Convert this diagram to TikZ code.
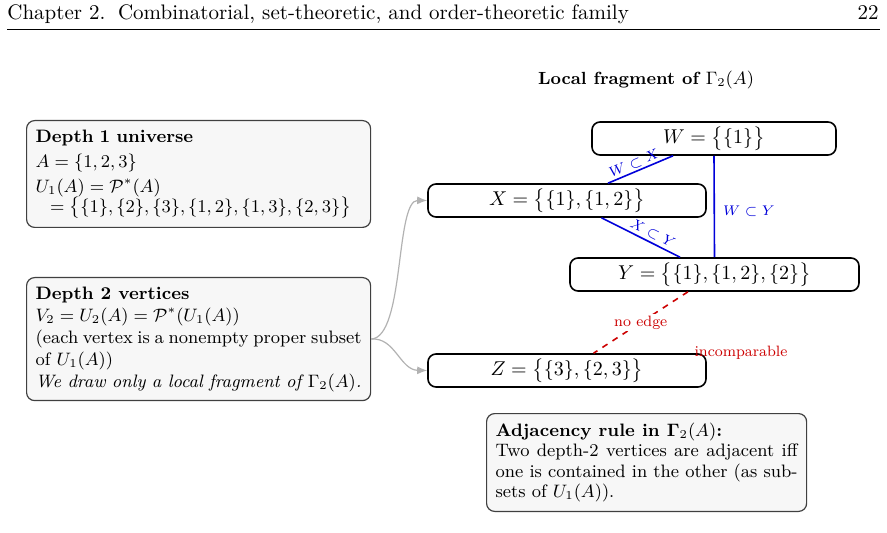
\documentclass[tikz,border=0pt]{standalone}
\usepackage{amsmath}
\usetikzlibrary{arrows.meta}
\begin{document}
\begin{tikzpicture}[x=0.5pt,y=-0.5pt,
  infobox/.style={draw=black!75,fill=black!3,rounded corners=4pt,line width=0.6pt,inner sep=4.5pt,font=\small,align=left,anchor=north west},
  vtx/.style={draw=black,fill=white,rounded corners=4pt,line width=0.8pt,inner sep=0pt,font=\normalsize},
  sub/.style={draw=blue!85!black,line width=0.8pt},
  sublbl/.style={font=\fontsize{7.5}{9}\selectfont,text=blue!85!black},
  noedge/.style={draw=red!80!black,dashed,line width=0.8pt},
  nolbl/.style={font=\fontsize{7.5}{9}\selectfont,text=red!80!black},
  feed/.style={draw=black!30,line width=0.6pt,-{Latex[length=5pt,width=4pt]}}]
\useasboundingbox (0,0) rectangle (887,533);
% header
\node[anchor=base west,inner sep=0pt,font=\fontsize{10.5}{12}\selectfont] (hd) at (7,20) {Chapter 2.\hspace{0.6em}Combinatorial, set-theoretic, and order-theoretic family};
\node[anchor=base east,inner sep=0pt,font=\fontsize{10.5}{12}\selectfont] (pg) at (879,20) {22};
\coordinate (rl) at (7,29);
\coordinate (rr) at (880,29);
\draw[line width=0.4pt] (rl) -- (rr);
% title
\node[font=\fontsize{8.8}{10}\selectfont\bfseries] (title) at (646,80) {Local fragment of $\Gamma_2(A)$};
% left boxes
\node[infobox,text width=163pt] (d1) at (26,120) {\textbf{Depth 1 universe}\\[1.5pt]
$A=\{1,2,3\}$\\[1.5pt]
$U_1(A)=\mathcal{P}^{*}(A)$\\[-1pt]
\hspace*{0.8em}$=\bigl\{\{1\},\{2\},\{3\},\{1,2\},\{1,3\},\{2,3\}\bigr\}$};
\node[infobox,text width=163pt,align=justify] (d2) at (26,277) {\textbf{Depth 2 vertices}\\
$V_2=U_2(A)=\mathcal{P}^{*}(U_1(A))$\\
(each vertex is a nonempty proper \mbox{subset} of $U_1(A)$)\\
\textit{We draw only a local fragment of $\Gamma_2(A)$.}};
% vertices
\node[vtx,minimum width=122pt,minimum height=16.5pt] (W) at (714,138.5) {$W=\bigl\{\{1\}\bigr\}$};
\node[vtx,minimum width=139pt,minimum height=16.5pt] (X) at (567,200.5) {$X=\bigl\{\{1\},\{1,2\}\bigr\}$};
\node[vtx,minimum width=144.5pt,minimum height=16.5pt] (Y) at (714.5,274.5) {$Y=\bigl\{\{1\},\{1,2\},\{2\}\bigr\}$};
\node[vtx,minimum width=139pt,minimum height=16.5pt] (Z) at (567,370.5) {$Z=\bigl\{\{3\},\{2,3\}\bigr\}$};
% edges
\draw[sub] (W) -- node[sublbl,pos=0.55,above,sloped,inner sep=1pt] {$W\subset X$} (X);
\draw[sub] (W.south) -- node[sublbl,pos=0.55,right,inner sep=4pt] {$W\subset Y$} (Y.north);
\draw[sub] (X) -- node[sublbl,pos=0.6,above,sloped,inner sep=1.5pt] {$X\subset Y$} (Y);
\draw[noedge] (Y) -- node[nolbl,pos=0.5,fill=white,inner sep=1pt] {no edge} (Z);
\node[nolbl] (inc) at (741,353) {incomparable};
% feeds
\draw[feed] (d2.east) .. controls (405,337) and (395,200) .. (X.west);
\draw[feed] (d2.east) .. controls (395,337) and (400,370) .. (Z.west);
% adjacency rule
\node[infobox,text width=151pt,align=justify,font=\fontsize{9}{10.3}\selectfont] (adj) at (486,413) {\textbf{Adjacency rule in $\boldsymbol{\Gamma}_2(A)$:}\\
Two depth-2 vertices are adjacent iff one is contained in the other (as subsets of $U_1(A)$).};
\end{tikzpicture}
\end{document}
